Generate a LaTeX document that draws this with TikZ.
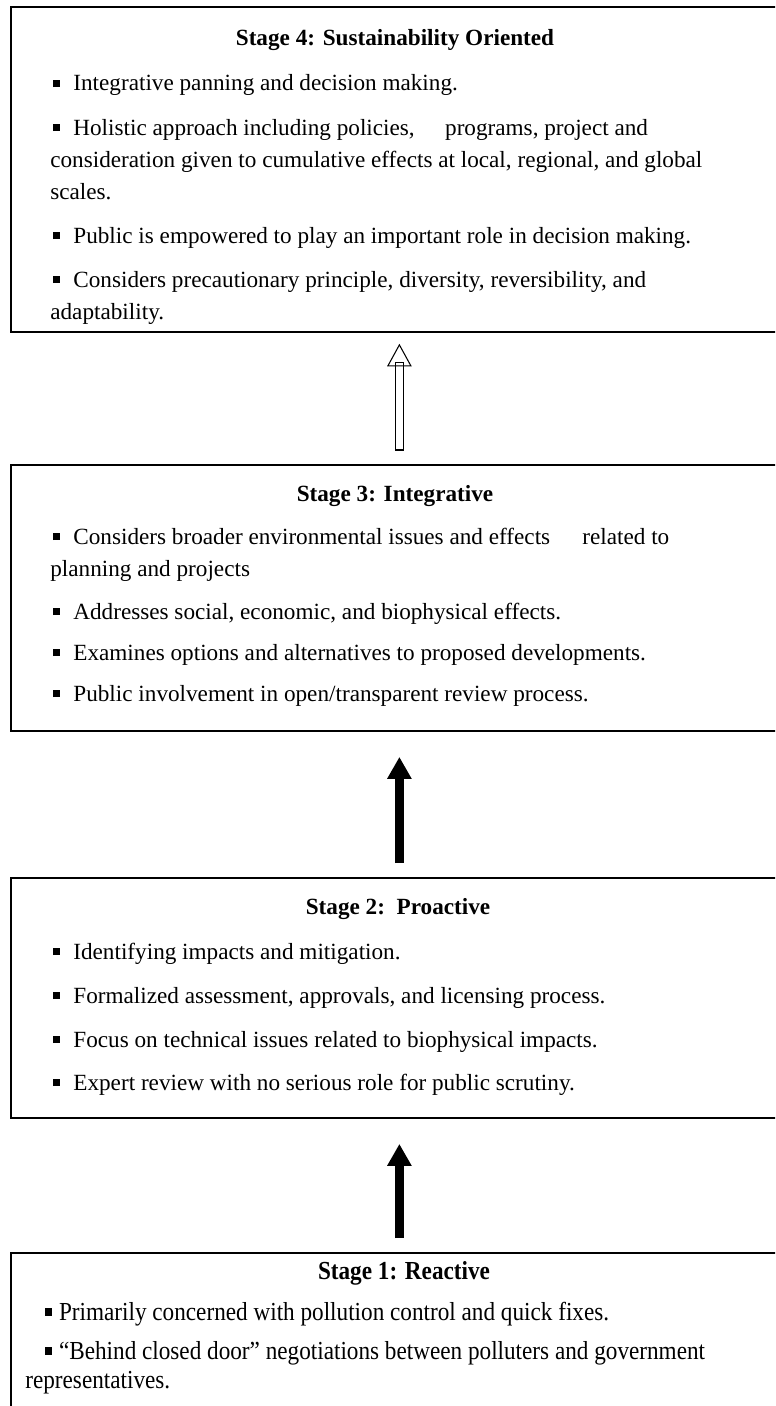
\documentclass[tikz,border=0pt]{standalone}
\usepackage{fontspec}
\setmainfont{Liberation Serif}
\usetikzlibrary{arrows.meta,calc}

% small square bullet, the gap after it can be changed
\newcommand{\sq}[1][7.6pt]{\raisebox{2.2pt}{\rule{3.8pt}{3.8pt}}\hspace{#1}}
% the lowest box has its text set a little taller
\newcommand{\tall}[1]{\scalebox{1}[1.12]{#1}}

\tikzset{
  stagebox/.style={draw, line width=1.1pt, anchor=north west, inner sep=0pt,
    minimum width=15.54cm},
  txt/.style={anchor=base west, inner sep=0pt, font=\fontsize{13.2}{16}\selectfont},
  head/.style={anchor=base, inner sep=0pt, font=\fontsize{13.2}{16}\selectfont\bfseries},
  hollow/.style={line width=0.6pt},
  solidarrow/.style={line width=4.9pt, -{Triangle[length=12.5pt,width=13.1pt]}}
}

\begin{document}
\begin{tikzpicture}[x=0.02cm,y=-0.02cm]
  \useasboundingbox (0,0) rectangle (775,1406);
  \clip (0,0) rectangle (775,1406);

  % the four boxes
  \node[stagebox, minimum height=6.5cm]  (s4) at (10,6) {};
  \node[stagebox, minimum height=5.32cm] (s3) at (10,464) {};
  \node[stagebox, minimum height=4.8cm]  (s2) at (10,877) {};
  \node[stagebox, minimum height=3.6cm]  (s1) at (10,1252) {};

  % stage 4
  \node[head] (t4) at (395,46) {Stage 4: Sustainability Oriented};
  \node[txt] (a1) at (53,91)  {\sq Integrative panning and decision making.};
  \node[txt] (a2) at (53,135) {\sq Holistic approach including policies,\hspace{14pt} programs, project and};
  \node[txt] (a3) at (50,167) {consideration given to cumulative effects at local, regional, and global};
  \node[txt] (a4) at (50,199) {scales.};
  \node[txt] (a5) at (53,243) {\sq Public is empowered to play an important role in decision making.};
  \node[txt] (a6) at (53,287) {\sq Considers precautionary principle, diversity, reversibility, and};
  \node[txt] (a7) at (50,319) {adaptability.};

  % stage 3
  \node[head] (t3) at (395,501) {Stage 3: Integrative};
  \node[txt] (b1) at (53,544) {\sq Considers broader environmental issues and effects\hspace{15pt} related to};
  \node[txt] (b2) at (50,576) {planning and projects};
  \node[txt] (b3) at (53,619) {\sq Addresses social, economic, and biophysical effects.};
  \node[txt] (b4) at (53,660) {\sq Examines options and alternatives to proposed developments.};
  \node[txt] (b5) at (53,701) {\sq Public involvement in open/transparent review process.};

  % stage 2
  \node[head] (t2) at (398,914) {Stage 2:\ \ Proactive};
  \node[txt] (c1) at (53,959)  {\sq Identifying impacts and mitigation.};
  \node[txt] (c2) at (53,1003) {\sq Formalized assessment, approvals, and licensing process.};
  \node[txt] (c3) at (53,1047) {\sq Focus on technical issues related to biophysical impacts.};
  \node[txt] (c4) at (53,1090) {\sq Expert review with no serious role for public scrutiny.};

  % stage 1
  \node[head] (t1) at (404,1279) {\tall{Stage 1: Reactive}};
  \node[txt] (d1) at (45,1320) {\tall{\sq[4pt]Primarily concerned with pollution control and quick fixes.}};
  \node[txt] (d2) at (45,1359) {\tall{\sq[4pt]``Behind closed door'' negotiations between polluters and government}};
  \node[txt] (d3) at (25,1388) {\tall{representatives.}};

  % arrows
  \draw[solidarrow] ($(s1.north)+(0,-14)$) -- ($(s2.south)+(0,25)$);
  \draw[solidarrow] ($(s2.north)+(0,-14)$) -- ($(s3.south)+(0,25)$);
  \draw[hollow] ($(s3.north)+(-4,-14)$) rectangle ($(s4.south)+(4,30)$);
  \draw[hollow] ($(s4.south)+(0,12)$) -- ++(-11.5,21) -- ++(23,0) -- cycle;
\end{tikzpicture}
\end{document}
